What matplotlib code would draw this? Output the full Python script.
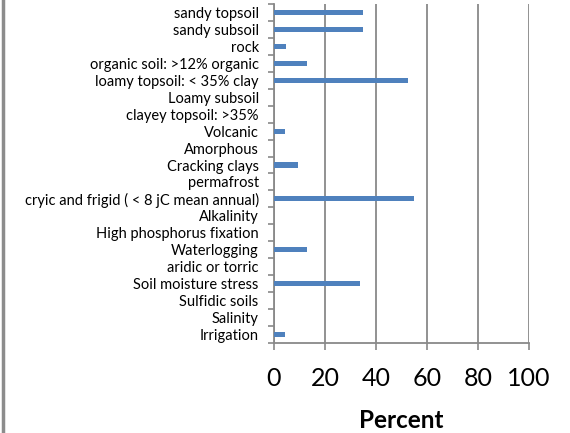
import matplotlib
matplotlib.use("Agg")
import matplotlib.pyplot as plt
from matplotlib.lines import Line2D
import numpy as np

categories = [
    "sandy topsoil",
    "sandy subsoil",
    "rock",
    "organic soil: >12% organic",
    "loamy topsoil: < 35% clay",
    "Loamy subsoil",
    "clayey topsoil: >35%",
    "Volcanic",
    "Amorphous",
    "Cracking clays",
    "permafrost",
    "cryic and frigid ( < 8 jC mean annual)",
    "Alkalinity",
    "High phosphorus fixation",
    "Waterlogging",
    "aridic or torric",
    "Soil moisture stress",
    "Sulfidic soils",
    "Salinity",
    "Irrigation",
]
percent = [35.0, 35.0, 4.8, 12.8, 52.7, 0, 0, 4.4, 0, 9.5, 0, 55.0,
           0, 0, 12.8, 0, 33.6, 0, 0, 4.3]
xticks = [0, 20, 40, 60, 80, 100]

plt.rcParams['font.family'] = ['Lato', 'DejaVu Sans']

fig = plt.figure(figsize=(5.7, 4.33), dpi=100)
ax = fig.add_axes([0.4807, 0.2079, 0.4474, 0.7829])

grey = "#898989"
y = np.arange(len(categories))
ax.barh(y, percent, height=0.3, color="#4F81BD", zorder=3)

ax.set_xlim(0, 100)
ax.set_ylim(len(categories) - 0.5, -0.5)
ax.set_xticks(xticks)
ax.set_xticklabels([str(t) for t in xticks], fontsize=18)
ax.set_yticks(y)
ax.set_yticklabels(categories, fontsize=10.5)
ax.set_yticks(np.arange(-0.5, len(categories)), minor=True)

ax.tick_params(axis='y', which='major', length=0, pad=11)
ax.tick_params(axis='y', which='minor', length=4, width=1.2, color=grey, direction='out')
ax.tick_params(axis='x', length=5, width=1.2, color=grey, direction='out', pad=12)

ax.grid(axis='x', color=grey, linewidth=1.3, zorder=0)
for s in ['top', 'right']:
    ax.spines[s].set_visible(False)
for s in ['left', 'bottom']:
    ax.spines[s].set_color(grey)
    ax.spines[s].set_linewidth(1.3)

ax.set_xlabel("Percent", fontsize=17.5, fontweight='bold', labelpad=14)

fig.add_artist(Line2D([0.006, 0.006], [0, 1], transform=fig.transFigure,
                      color="#8c8c8c", linewidth=2.5))

fig.savefig("out.png", dpi=100)
